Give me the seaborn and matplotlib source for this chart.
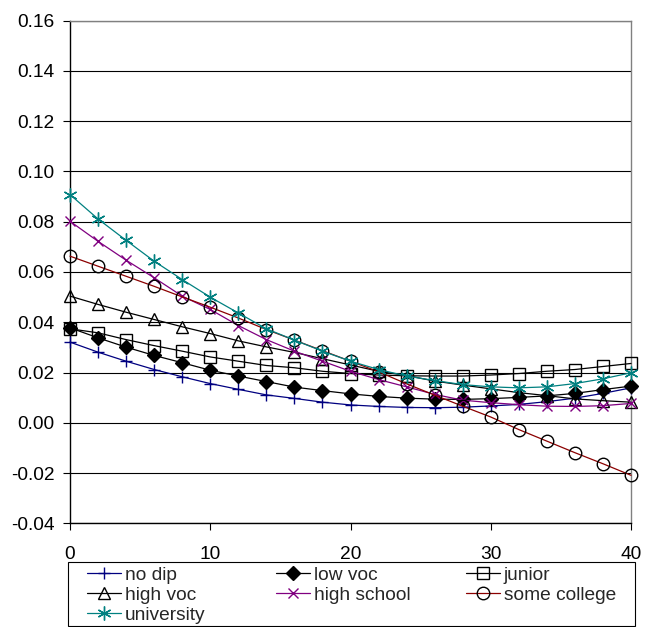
import numpy as np
import pandas as pd
import matplotlib
matplotlib.use("Agg")
import matplotlib.pyplot as plt
from matplotlib.patches import Rectangle
import seaborn as sns

x_vals = list(range(0, 41, 2))

no_dip = [0.0321, 0.0281, 0.0245, 0.0212, 0.0183, 0.0156, 0.0133, 0.0111, 0.0097, 0.0082, 0.0071,
          0.0065, 0.0061, 0.0060, 0.0062, 0.0067, 0.0073, 0.0084, 0.0098, 0.0117, 0.0139]
low_voc = [0.0378, 0.0338, 0.0301, 0.0268, 0.0239, 0.0209, 0.0186, 0.0164, 0.0142, 0.0128, 0.0115,
           0.0105, 0.0098, 0.0094, 0.0093, 0.0096, 0.0101, 0.0107, 0.0117, 0.0132, 0.0146]
junior = [0.0374, 0.0358, 0.0331, 0.0307, 0.0285, 0.0262, 0.0245, 0.0228, 0.0219, 0.0205, 0.0196,
          0.0190, 0.0187, 0.0186, 0.0186, 0.0190, 0.0196, 0.0205, 0.0212, 0.0224, 0.0236]
high_voc = [0.0504, 0.0471, 0.0440, 0.0411, 0.0382, 0.0355, 0.0326, 0.0302, 0.0280, 0.0255, 0.0230,
            0.0205, 0.0188, 0.0166, 0.0150, 0.0135, 0.0120, 0.0108, 0.0095, 0.0088, 0.0082]
high_school = [0.0802, 0.0722, 0.0647, 0.0577, 0.0504, 0.0451, 0.0387, 0.0331, 0.0285, 0.0245, 0.0205,
               0.0172, 0.0143, 0.0113, 0.0090, 0.0080, 0.0072, 0.0066, 0.0065, 0.0068, 0.0077]
some_college = [0.0663, 0.0623, 0.0583, 0.0543, 0.0501, 0.0460, 0.0417, 0.0371, 0.0329, 0.0287, 0.0245,
                0.0203, 0.0155, 0.0110, 0.0066, 0.0023, -0.0027, -0.0073, -0.0119, -0.0163, -0.0209]
university = [0.0908, 0.0811, 0.0726, 0.0643, 0.0570, 0.0500, 0.0437, 0.0374, 0.0329, 0.0285, 0.0245,
              0.0212, 0.0186, 0.0168, 0.0152, 0.0143, 0.0139, 0.0143, 0.0156, 0.0175, 0.0199]

series_names = ["no dip", "low voc", "junior", "high voc", "high school", "some college", "university"]
series_values = [no_dip, low_voc, junior, high_voc, high_school, some_college, university]

y_ticks = [-0.04, -0.02, 0.00, 0.02, 0.04, 0.06, 0.08, 0.10, 0.12, 0.14, 0.16]
x_ticks = [0, 10, 20, 30, 40]

styles = {
    "no dip":       dict(color="#000080", marker="+", ms=9, mfc="none", mec="#000080", mew=1.0),
    "low voc":      dict(color="black", marker="D", ms=7, mfc="black", mec="black", mew=1.0),
    "junior":       dict(color="black", marker="s", ms=8, mfc="none", mec="black", mew=1.0),
    "high voc":     dict(color="black", marker="^", ms=8.5, mfc="none", mec="black", mew=1.0),
    "high school":  dict(color="#800080", marker="x", ms=7.5, mfc="none", mec="#800080", mew=1.0),
    "some college": dict(color="#8B0000", marker="o", ms=9, mfc="none", mec="black", mew=1.0),
    "university":   dict(color="#008080", marker=(6, 2, 0), ms=10, mfc="none", mec="#008080", mew=1.0),
}

FS = 13.8
W, H = 663, 627

sns.set_theme(style="white")
plt.rcParams["font.family"] = ["Liberation Sans", "DejaVu Sans"]

fig = plt.figure(figsize=(6.63, 6.27), dpi=100)
ax = fig.add_axes([70 / W, 1 - 523.3 / H, (631 - 70) / W, (523.3 - 20.7) / H])

for name, vals in zip(series_names, series_values):
    st = styles[name]
    df = pd.DataFrame({"x": x_vals, "y": vals})
    sns.lineplot(data=df, x="x", y="y", ax=ax, color=st["color"], linewidth=0.9,
                 marker=st["marker"], markersize=st["ms"], markerfacecolor=st["mfc"],
                 markeredgecolor=st["mec"], markeredgewidth=st["mew"], label=name,
                 clip_on=False, zorder=3)

ax.set_xlim(0, 40)
ax.set_ylim(-0.04, 0.16)
ax.set_xticks(x_ticks)
ax.set_yticks(y_ticks)
ax.set_yticklabels([f"{v:.2f}" for v in y_ticks])
ax.set_xlabel("")
ax.set_ylabel("")

for v in y_ticks:
    ax.axhline(v, color="black", linewidth=0.8, zorder=1)

for side in ["left", "bottom"]:
    ax.spines[side].set_color("black")
    ax.spines[side].set_linewidth(1.0)
for side in ["top", "right"]:
    ax.spines[side].set_color("#808080")
    ax.spines[side].set_linewidth(1.0)

ax.tick_params(axis="both", which="major", direction="out", length=5, width=0.8,
               color="black", labelsize=FS, labelcolor="black", left=True, bottom=True)
ax.tick_params(axis="y", pad=6)
ax.tick_params(axis="x", pad=11)

handles, labels = ax.get_legend_handles_labels()
hmap = dict(zip(labels, handles))
if ax.get_legend() is not None:
    ax.get_legend().remove()

# legend laid out row-wise in three columns, like the reference
legend_cols = [["no dip", "high voc", "university"],
               ["low voc", "high school"],
               ["junior", "some college"]]
col_x = [87, 276, 466]
row1_center, row_step = 575.0, 20.0


def build(ls, top):
    legs = []
    for names, x0 in zip(legend_cols, col_x):
        lg = fig.legend([hmap[k] for k in names], names, loc="upper left",
                        bbox_to_anchor=(x0 / W, 1 - top / H), bbox_transform=fig.transFigure,
                        frameon=False, fontsize=FS, borderaxespad=0, borderpad=0,
                        handlelength=1.77, handletextpad=0.2, labelspacing=ls)
        legs.append(lg)
    return legs


def measure(legs):
    fig.canvas.draw()
    r = fig.canvas.get_renderer()
    ys = []
    for t in legs[0].get_texts():
        bb = t.get_window_extent(r)
        ys.append(H - (bb.y0 + bb.y1) / 2)
    return ys


ls, top = 0.1, 564.0
for _ in range(3):
    legs = build(ls, top)
    ys = measure(legs)
    step = (ys[-1] - ys[0]) / 2
    ls += (row_step - step) / (FS * 100 / 72)
    top += row1_center - ys[0] - (row_step - step) * 0
    for lg in legs:
        lg.remove()
legs = build(ls, top)
ys = measure(legs)
for lg in legs:
    lg.remove()
top += row1_center - ys[0]
legs = build(ls, top)

fig.patches.append(Rectangle((68 / W, 1 - 625.5 / H), (635 - 68) / W, (625.5 - 561.5) / H,
                             transform=fig.transFigure, fill=False, edgecolor="black",
                             linewidth=0.8, figure=fig))

fig.savefig("out.png", dpi=100, facecolor="white")
